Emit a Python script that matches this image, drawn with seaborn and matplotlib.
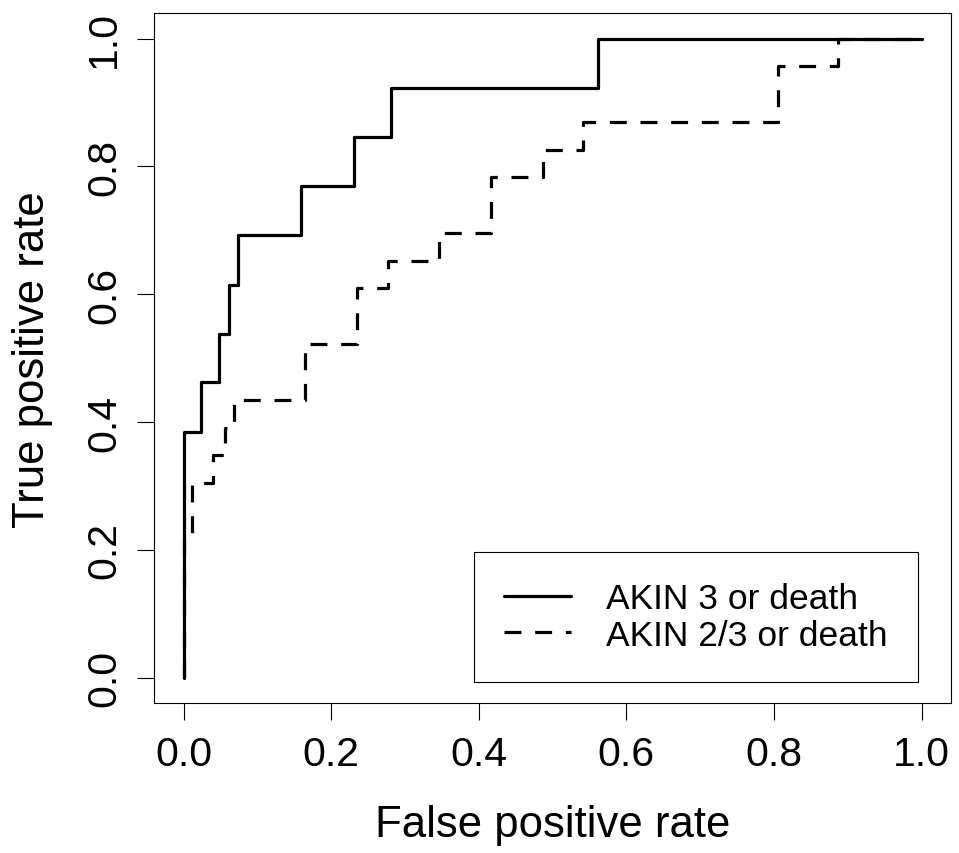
import pandas as pd
import matplotlib
matplotlib.use("Agg")
import matplotlib.pyplot as plt
import seaborn as sns

# ROC curve vertices (drawn as post-steps)
akin3_fpr = [0.0, 0.0, 0.024, 0.048, 0.062, 0.074, 0.159, 0.231, 0.281, 0.562, 1.0]
akin3_tpr = [0.0, 0.385, 0.462, 0.538, 0.615, 0.692, 0.769, 0.846, 0.923, 1.0, 1.0]

akin23_fpr = [0.0, 0.0, 0.011, 0.040, 0.056, 0.068, 0.165, 0.235, 0.277, 0.346,
              0.416, 0.487, 0.541, 0.805, 0.887, 1.0]
akin23_tpr = [0.0, 0.217, 0.304, 0.348, 0.391, 0.435, 0.522, 0.609, 0.652, 0.696,
              0.783, 0.826, 0.870, 0.957, 1.0, 1.0]

labels = ["AKIN 3 or death", "AKIN 2/3 or death"]
x_ticks = [0.0, 0.2, 0.4, 0.6, 0.8, 1.0]
y_ticks = [0.0, 0.2, 0.4, 0.6, 0.8, 1.0]

df = pd.concat([
    pd.DataFrame({"fpr": akin3_fpr, "tpr": akin3_tpr, "curve": labels[0]}),
    pd.DataFrame({"fpr": akin23_fpr, "tpr": akin23_tpr, "curve": labels[1]}),
])

sns.set_style("white")
plt.rcParams["font.family"] = ["Liberation Sans", "DejaVu Sans"]
plt.rcParams.update({"text.color": "black", "axes.labelcolor": "black",
                     "xtick.color": "black", "ytick.color": "black"})

fig = plt.figure(figsize=(9.59, 8.54), dpi=100)
ax = fig.add_axes([0.1606, 0.1753, 0.8311, 0.8083])

sns.lineplot(data=df, x="fpr", y="tpr", hue="curve", style="curve",
             palette={labels[0]: "black", labels[1]: "black"},
             dashes={labels[0]: "", labels[1]: (5.3, 4.3)},
             sort=False, estimator=None, drawstyle="steps-post",
             linewidth=2.3, legend=False, ax=ax)

ax.set_xlim(-0.04, 1.04)
ax.set_ylim(-0.04, 1.04)
ax.set_xticks(x_ticks)
ax.set_yticks(y_ticks)
ax.set_xticklabels([f"{v:.1f}" for v in x_ticks])
ax.set_yticklabels([f"{v:.1f}" for v in y_ticks], rotation=90, va="center")

for s in ax.spines.values():
    s.set_visible(True)
    s.set_color("black")
    s.set_linewidth(0.8)

ax.tick_params(axis="both", direction="out", length=12.2, width=0.8,
               color="black", labelsize=29.5, bottom=True, left=True)
ax.tick_params(axis="x", pad=10.5)
ax.tick_params(axis="y", pad=10)

ax.set_xlabel("False positive rate", fontsize=31.5)
ax.set_ylabel("True positive rate", fontsize=31.5)
ax.xaxis.set_label_coords(0.5, -0.176)
ax.xaxis.label.set_va("center")
ax.yaxis.set_label_coords(-0.152, 0.5)
ax.yaxis.label.set_va("center")

leg = ax.legend(handles=ax.lines[:2], labels=labels, loc="lower right",
                bbox_to_anchor=(0.9586, 0.0309), borderaxespad=0,
                fontsize=25.5, frameon=True, fancybox=False, framealpha=1,
                edgecolor="black", handlelength=1.9, handletextpad=1.0,
                borderpad=0.85, labelspacing=0.1)
leg.get_frame().set_linewidth(0.8)

fig.savefig("out.png", dpi=100, facecolor="white")
